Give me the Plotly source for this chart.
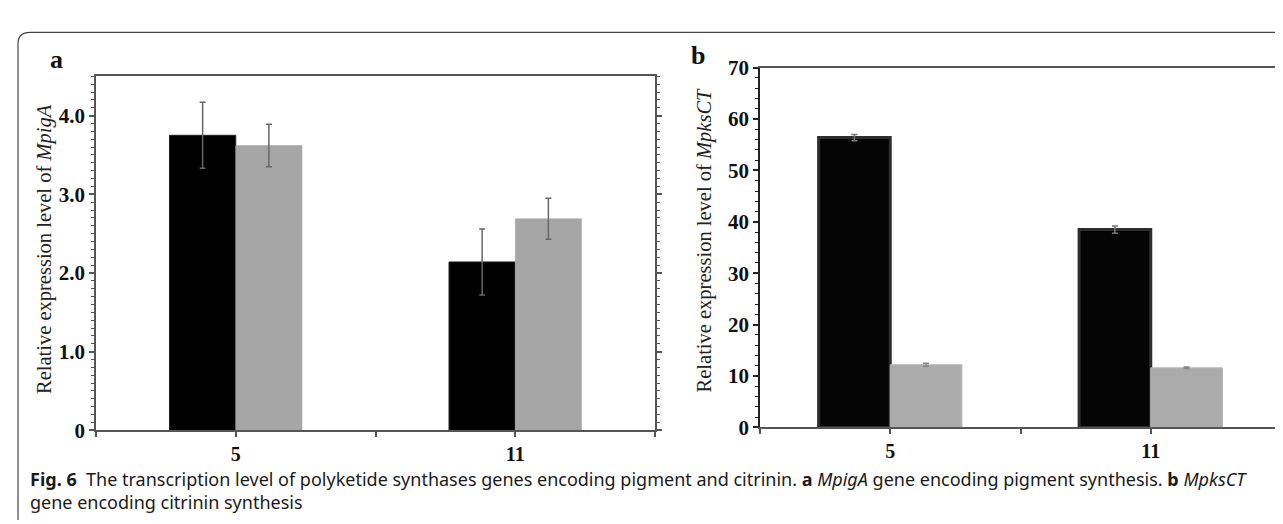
import plotly.graph_objects as go

# ---- data ----
categories = ["5", "11"]
a_black = [3.75, 2.14]
a_black_err = [0.42, 0.42]
a_gray = [3.62, 2.69]
a_gray_err = [0.27, 0.26]
b_black = [56.4, 38.5]
b_black_err = [0.6, 0.7]
b_gray = [12.2, 11.6]
b_gray_err = [0.3, 0.15]
a_ticks = [0, 1, 2, 3, 4]
a_ticktext = ["0", "1.0", "2.0", "3.0", "4.0"]
b_ticks = [0, 10, 20, 30, 40, 50, 60, 70]

W, H = 1283, 524
def px(x): return x / W
def py(y): return 1 - y / H

SERIF = "Liberation Serif"
SANS = "Noto Sans"
AX = "#555555"

fig = go.Figure()
xpos = list(range(len(categories)))

def add_bars(xa, ya, vals, errs, color, offset, width, line_color, line_w, err_color):
    fig.add_trace(go.Bar(
        x=xpos, y=vals, xaxis=xa, yaxis=ya, width=width, offset=offset,
        marker=dict(color=color, line=dict(color=line_color, width=line_w)),
        error_y=dict(type="data", array=errs, visible=True, color=err_color,
                     thickness=1.5, width=3),
        showlegend=False, hoverinfo="skip"))

wa, wb = 0.237, 0.275
add_bars("x", "y", a_black, a_black_err, "#000000", -wa, wa, "#222222", 1, "#666666")
add_bars("x", "y", a_gray, a_gray_err, "#a6a6a6", 0, wa, "#a6a6a6", 0.5, "#666666")
add_bars("x2", "y2", b_black, b_black_err, "#050505", -wb, wb, "#2e2e2e", 3, "#777777")
add_bars("x2", "y2", b_gray, b_gray_err, "#ababab", 0, wb, "#b5b5b5", 1, "#888888")

xtick = dict(tickvals=[-0.5, 0, 0.5, 1, 1.5], ticktext=["", categories[0], "", categories[1], ""],
             range=[-0.5, 1.5], ticks="outside", ticklen=5, tickcolor=AX, tickwidth=1.5,
             showline=True, linecolor=AX, linewidth=1.5, showgrid=False, zeroline=False,
             tickfont=dict(family=SERIF, size=20, color="#111111", weight="bold"))

fig.update_layout(
    width=W, height=H, margin=dict(l=0, r=0, t=0, b=0),
    paper_bgcolor="white", plot_bgcolor="white", barmode="overlay",
    xaxis=dict(domain=[px(88), px(647)], anchor="y", mirror=True, **xtick),
    yaxis=dict(domain=[py(430), py(59)], anchor="x", range=[0, 4.5],
               tickvals=a_ticks, ticktext=a_ticktext,
               ticks="outside", ticklen=5, tickcolor=AX, tickwidth=1.5,
               minor=dict(dtick=0.1, ticks="outside", ticklen=3, tickcolor=AX, tickwidth=1),
               showline=True, linecolor=AX, linewidth=1.5, mirror="ticks",
               showgrid=False, zeroline=False,
               tickfont=dict(family=SERIF, size=21, color="#111111", weight="bold")),
    xaxis2=dict(domain=[px(752), px(1273)], anchor="y2", mirror=True, **xtick),
    yaxis2=dict(domain=[py(427), py(50)], anchor="x2", range=[0, 70],
                tickvals=b_ticks,
                ticks="outside", ticklen=5, tickcolor="#222", tickwidth=1.5,
                minor=dict(dtick=2, ticks="outside", ticklen=3, tickcolor="#222", tickwidth=1),
                showline=True, linecolor="#222", linewidth=1.5, mirror=True,
                showgrid=False, zeroline=False,
                tickfont=dict(family=SERIF, size=21, color="#111111", weight="bold")),
)

ann = [
    dict(x=px(49), y=py(41), text="<b>a</b>", font=dict(family=SERIF, size=26, color="#111")),
    dict(x=px(690), y=py(37), text="<b>b</b>", font=dict(family=SERIF, size=26, color="#111")),
    dict(x=px(36), y=py(240), text="Relative expression level of <i>MpigA</i>", textangle=-90,
         font=dict(family=SERIF, size=20.5, color="#222")),
    dict(x=px(696), y=py(231), text="Relative expression level of <i>MpksCT</i>", textangle=-90,
         font=dict(family=SERIF, size=20.5, color="#222")),
]
for a in ann:
    a.update(xref="paper", yref="paper", showarrow=False, xanchor="center", yanchor="middle")
    fig.add_annotation(**a)

cap1 = ("<b>Fig. 6</b>  The transcription level of polyketide synthases genes encoding pigment and "
        "citrinin. <b>a</b> <i>MpigA</i> gene encoding pigment synthesis. <b>b</b> <i>MpksCT</i>")
cap2 = "gene encoding citrinin synthesis"
for txt, y in [(cap1, 481), (cap2, 505)]:
    fig.add_annotation(xref="paper", yref="paper", x=px(20), y=py(y), text=txt, showarrow=False,
                       xanchor="left", yanchor="middle",
                       font=dict(family=SANS, size=18, color="#1a1a1a"))

# outer rounded frame
fig.add_shape(type="path", xref="paper", yref="paper",
              path=f"M {px(10)},{py(524)} L {px(10)},{py(25)} Q {px(10)},{py(13)} {px(22)},{py(13)} L {px(1283)},{py(13)}",
              line=dict(color="#444444", width=1.2))

fig.write_html("out.html")
